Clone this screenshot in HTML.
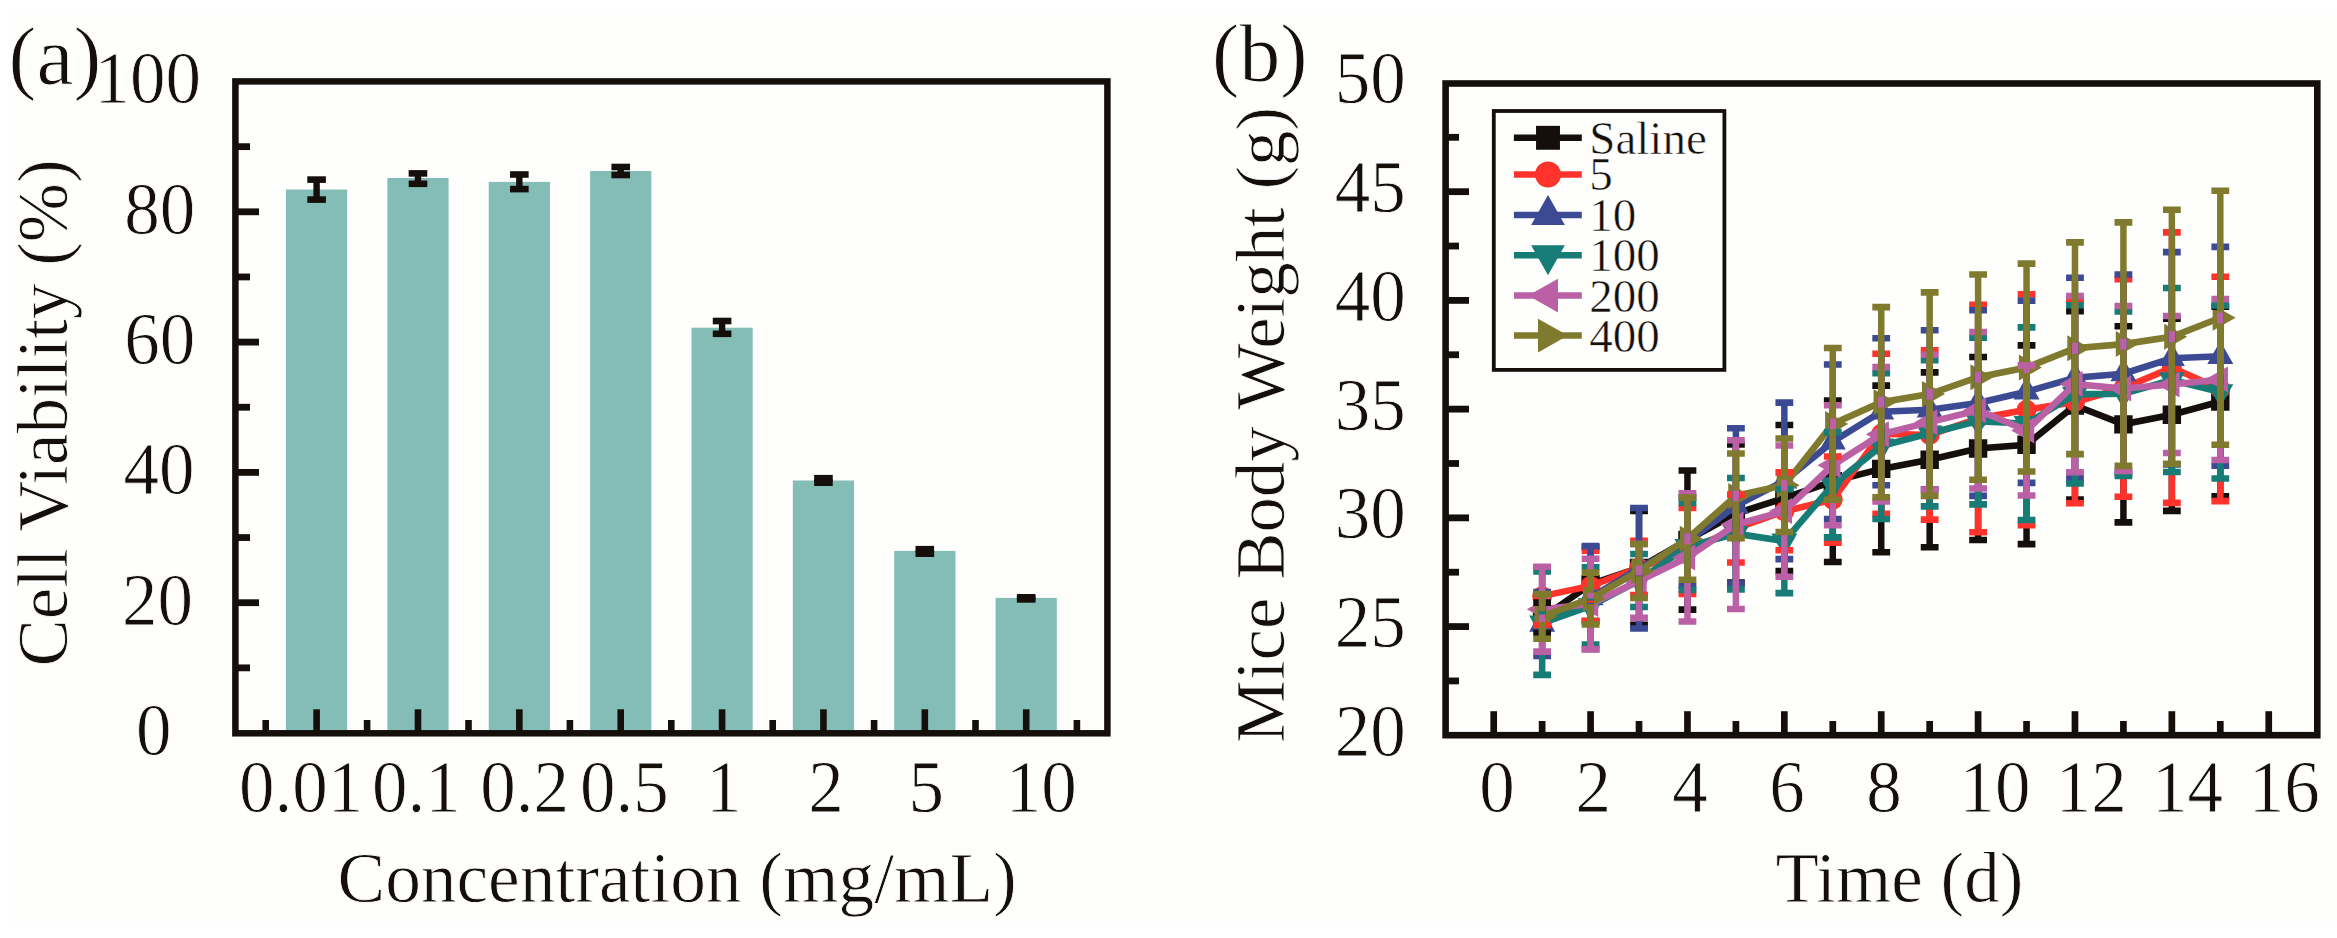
<!DOCTYPE html>
<html lang="en">
<head>
<meta charset="utf-8">
<title>Cell viability and mice body weight</title>
<style>
html,body{margin:0;padding:0;background:#fff;}
body{width:2337px;height:938px;overflow:hidden;}
svg{display:block;}
svg text{font-family:"Liberation Serif", serif;fill:#140f0b;}
</style>
</head>
<body>
<svg role="img" aria-label="Cell viability bar chart and mice body weight line chart" width="2337" height="938" viewBox="0 0 2337 938" shape-rendering="geometricPrecision">
<rect x="0.00" y="0.00" width="2337.00" height="938.00" fill="#ffffff"/>
<rect x="9.00" y="11.00" width="2328.00" height="912.00" fill="#fefefc"/>
<g id="panel-a">
<rect x="286.00" y="189.50" width="61.20" height="543.80" fill="#84bcb6"/>
<rect x="387.37" y="178.00" width="61.20" height="555.30" fill="#84bcb6"/>
<rect x="488.74" y="181.90" width="61.20" height="551.40" fill="#84bcb6"/>
<rect x="590.11" y="171.00" width="61.20" height="562.30" fill="#84bcb6"/>
<rect x="691.48" y="327.70" width="61.20" height="405.60" fill="#84bcb6"/>
<rect x="792.85" y="480.50" width="61.20" height="252.80" fill="#84bcb6"/>
<rect x="894.22" y="550.90" width="61.20" height="182.40" fill="#84bcb6"/>
<rect x="995.59" y="597.90" width="61.20" height="135.40" fill="#84bcb6"/>
<rect x="313.40" y="179.60" width="6.40" height="20.00" fill="#140f0b"/>
<rect x="307.30" y="176.30" width="18.60" height="6.60" fill="#140f0b"/>
<rect x="307.30" y="196.30" width="18.60" height="6.60" fill="#140f0b"/>
<rect x="414.77" y="173.40" width="6.40" height="10.40" fill="#140f0b"/>
<rect x="408.67" y="170.10" width="18.60" height="6.60" fill="#140f0b"/>
<rect x="408.67" y="180.50" width="18.60" height="6.60" fill="#140f0b"/>
<rect x="516.14" y="174.50" width="6.40" height="14.60" fill="#140f0b"/>
<rect x="510.04" y="171.20" width="18.60" height="6.60" fill="#140f0b"/>
<rect x="510.04" y="185.80" width="18.60" height="6.60" fill="#140f0b"/>
<rect x="617.51" y="167.00" width="6.40" height="8.00" fill="#140f0b"/>
<rect x="611.41" y="163.70" width="18.60" height="6.60" fill="#140f0b"/>
<rect x="611.41" y="171.70" width="18.60" height="6.60" fill="#140f0b"/>
<rect x="718.88" y="321.00" width="6.40" height="12.80" fill="#140f0b"/>
<rect x="712.78" y="317.70" width="18.60" height="6.60" fill="#140f0b"/>
<rect x="712.78" y="330.50" width="18.60" height="6.60" fill="#140f0b"/>
<rect x="820.25" y="478.20" width="6.40" height="4.50" fill="#140f0b"/>
<rect x="814.15" y="474.90" width="18.60" height="6.60" fill="#140f0b"/>
<rect x="814.15" y="479.40" width="18.60" height="6.60" fill="#140f0b"/>
<rect x="921.62" y="549.20" width="6.40" height="4.50" fill="#140f0b"/>
<rect x="915.52" y="545.90" width="18.60" height="6.60" fill="#140f0b"/>
<rect x="915.52" y="550.40" width="18.60" height="6.60" fill="#140f0b"/>
<rect x="1022.99" y="597.30" width="6.40" height="2.10" fill="#140f0b"/>
<rect x="1016.89" y="594.00" width="18.60" height="6.60" fill="#140f0b"/>
<rect x="1016.89" y="596.10" width="18.60" height="6.60" fill="#140f0b"/>
<line x1="235.40" y1="667.85" x2="250.00" y2="667.85" stroke="#140f0b" stroke-width="6.8" stroke-linecap="butt"/>
<line x1="235.40" y1="602.70" x2="259.00" y2="602.70" stroke="#140f0b" stroke-width="6.8" stroke-linecap="butt"/>
<line x1="235.40" y1="537.55" x2="250.00" y2="537.55" stroke="#140f0b" stroke-width="6.8" stroke-linecap="butt"/>
<line x1="235.40" y1="472.40" x2="259.00" y2="472.40" stroke="#140f0b" stroke-width="6.8" stroke-linecap="butt"/>
<line x1="235.40" y1="407.25" x2="250.00" y2="407.25" stroke="#140f0b" stroke-width="6.8" stroke-linecap="butt"/>
<line x1="235.40" y1="342.10" x2="259.00" y2="342.10" stroke="#140f0b" stroke-width="6.8" stroke-linecap="butt"/>
<line x1="235.40" y1="276.95" x2="250.00" y2="276.95" stroke="#140f0b" stroke-width="6.8" stroke-linecap="butt"/>
<line x1="235.40" y1="211.80" x2="259.00" y2="211.80" stroke="#140f0b" stroke-width="6.8" stroke-linecap="butt"/>
<line x1="235.40" y1="146.65" x2="250.00" y2="146.65" stroke="#140f0b" stroke-width="6.8" stroke-linecap="butt"/>
<line x1="316.60" y1="733.30" x2="316.60" y2="709.30" stroke="#140f0b" stroke-width="6.6" stroke-linecap="butt"/>
<line x1="417.97" y1="733.30" x2="417.97" y2="709.30" stroke="#140f0b" stroke-width="6.6" stroke-linecap="butt"/>
<line x1="519.34" y1="733.30" x2="519.34" y2="709.30" stroke="#140f0b" stroke-width="6.6" stroke-linecap="butt"/>
<line x1="620.71" y1="733.30" x2="620.71" y2="709.30" stroke="#140f0b" stroke-width="6.6" stroke-linecap="butt"/>
<line x1="722.08" y1="733.30" x2="722.08" y2="709.30" stroke="#140f0b" stroke-width="6.6" stroke-linecap="butt"/>
<line x1="823.45" y1="733.30" x2="823.45" y2="709.30" stroke="#140f0b" stroke-width="6.6" stroke-linecap="butt"/>
<line x1="924.82" y1="733.30" x2="924.82" y2="709.30" stroke="#140f0b" stroke-width="6.6" stroke-linecap="butt"/>
<line x1="1026.19" y1="733.30" x2="1026.19" y2="709.30" stroke="#140f0b" stroke-width="6.6" stroke-linecap="butt"/>
<line x1="265.70" y1="733.30" x2="265.70" y2="720.00" stroke="#140f0b" stroke-width="6.6" stroke-linecap="butt"/>
<line x1="367.10" y1="733.30" x2="367.10" y2="720.00" stroke="#140f0b" stroke-width="6.6" stroke-linecap="butt"/>
<line x1="468.50" y1="733.30" x2="468.50" y2="720.00" stroke="#140f0b" stroke-width="6.6" stroke-linecap="butt"/>
<line x1="569.90" y1="733.30" x2="569.90" y2="720.00" stroke="#140f0b" stroke-width="6.6" stroke-linecap="butt"/>
<line x1="671.30" y1="733.30" x2="671.30" y2="720.00" stroke="#140f0b" stroke-width="6.6" stroke-linecap="butt"/>
<line x1="772.70" y1="733.30" x2="772.70" y2="720.00" stroke="#140f0b" stroke-width="6.6" stroke-linecap="butt"/>
<line x1="874.10" y1="733.30" x2="874.10" y2="720.00" stroke="#140f0b" stroke-width="6.6" stroke-linecap="butt"/>
<line x1="975.50" y1="733.30" x2="975.50" y2="720.00" stroke="#140f0b" stroke-width="6.6" stroke-linecap="butt"/>
<line x1="1076.90" y1="733.30" x2="1076.90" y2="720.00" stroke="#140f0b" stroke-width="6.6" stroke-linecap="butt"/>
<rect x="235.4" y="81.4" width="872.00" height="651.90" fill="none" stroke="#140f0b" stroke-width="6.5"/>
<text transform="translate(94.50 102.80) scale(1 1.04)" font-size="71" text-anchor="start" stroke="#fefefc" stroke-width="0.78" paint-order="fill stroke">100</text>
<text transform="translate(124.30 233.80) scale(1 1.04)" font-size="71" text-anchor="start" stroke="#fefefc" stroke-width="0.78" paint-order="fill stroke">80</text>
<text transform="translate(124.30 364.20) scale(1 1.04)" font-size="71" text-anchor="start" stroke="#fefefc" stroke-width="0.78" paint-order="fill stroke">60</text>
<text transform="translate(123.40 494.40) scale(1 1.04)" font-size="71" text-anchor="start" stroke="#fefefc" stroke-width="0.78" paint-order="fill stroke">40</text>
<text transform="translate(122.00 624.60) scale(1 1.04)" font-size="71" text-anchor="start" stroke="#fefefc" stroke-width="0.78" paint-order="fill stroke">20</text>
<text transform="translate(136.00 754.80) scale(1 1.04)" font-size="71" text-anchor="start" stroke="#fefefc" stroke-width="0.78" paint-order="fill stroke">0</text>
<text transform="translate(238.90 811.90) scale(1 1.04)" font-size="71" text-anchor="start" stroke="#fefefc" stroke-width="0.78" paint-order="fill stroke">0.01</text>
<text transform="translate(372.00 811.90) scale(1 1.04)" font-size="71" text-anchor="start" stroke="#fefefc" stroke-width="0.78" paint-order="fill stroke">0.1</text>
<text transform="translate(480.20 811.90) scale(1 1.04)" font-size="71" text-anchor="start" stroke="#fefefc" stroke-width="0.78" paint-order="fill stroke">0.2</text>
<text transform="translate(580.00 811.90) scale(1 1.04)" font-size="71" text-anchor="start" stroke="#fefefc" stroke-width="0.78" paint-order="fill stroke">0.5</text>
<text transform="translate(705.90 811.90) scale(1 1.04)" font-size="71" text-anchor="start" stroke="#fefefc" stroke-width="0.78" paint-order="fill stroke">1</text>
<text transform="translate(808.30 811.90) scale(1 1.04)" font-size="71" text-anchor="start" stroke="#fefefc" stroke-width="0.78" paint-order="fill stroke">2</text>
<text transform="translate(908.50 811.90) scale(1 1.04)" font-size="71" text-anchor="start" stroke="#fefefc" stroke-width="0.78" paint-order="fill stroke">5</text>
<text transform="translate(1005.70 811.90) scale(1 1.04)" font-size="71" text-anchor="start" stroke="#fefefc" stroke-width="0.78" paint-order="fill stroke">10</text>
<text transform="translate(337.60 902.40)" font-size="71.3" text-anchor="start" stroke="#fefefc" stroke-width="0.78" paint-order="fill stroke">Concentration (mg/mL)</text>
<text transform="translate(67.30 666.50) rotate(-90)" font-size="71" text-anchor="start" stroke="#fefefc" stroke-width="0.78" paint-order="fill stroke">Cell Viability (%)</text>
<text transform="translate(8.60 83.60)" font-size="83.5" text-anchor="start" stroke="#fefefc" stroke-width="0.92" paint-order="fill stroke">(a)</text>
</g>
<g id="panel-b">
<polyline points="1542.14,617.88 1590.58,584.17 1639.02,567.86 1687.46,540.03 1735.90,513.50 1784.34,498.06 1832.78,481.32 1881.22,468.92 1929.66,459.79 1978.10,448.48 2026.54,444.79 2074.98,405.43 2123.42,424.35 2171.86,414.78 2220.30,401.51" fill="none" stroke="#140f0b" stroke-width="6.6" stroke-linejoin="miter"/>
<path fill="#140f0b" d="M1532.94 608.68H1551.34V627.08H1532.94ZM1581.38 574.97H1599.78V593.37H1581.38ZM1629.82 558.66H1648.22V577.06H1629.82ZM1678.26 530.83H1696.66V549.23H1678.26ZM1726.70 504.30H1745.10V522.70H1726.70ZM1775.14 488.86H1793.54V507.26H1775.14ZM1823.58 472.12H1841.98V490.52H1823.58ZM1872.02 459.72H1890.42V478.12H1872.02ZM1920.46 450.59H1938.86V468.99H1920.46ZM1968.90 439.28H1987.30V457.68H1968.90ZM2017.34 435.59H2035.74V453.99H2017.34ZM2065.78 396.23H2084.18V414.63H2065.78ZM2114.22 415.15H2132.62V433.55H2114.22ZM2162.66 405.58H2181.06V423.98H2162.66ZM2211.10 392.31H2229.50V410.71H2211.10Z"/>
<polyline points="1542.14,596.13 1590.58,585.91 1639.02,567.86 1687.46,550.90 1735.90,528.51 1784.34,511.33 1832.78,499.58 1881.22,433.70 1929.66,435.00 1978.10,418.48 2026.54,409.78 2074.98,401.95 2123.42,388.03 2171.86,367.59 2220.30,388.90" fill="none" stroke="#ff332b" stroke-width="6.6" stroke-linejoin="miter"/>
<path fill="#ff332b" d="M1532.14 596.13A10.00 10.00 0 1 0 1552.14 596.13A10.00 10.00 0 1 0 1532.14 596.13ZM1580.58 585.91A10.00 10.00 0 1 0 1600.58 585.91A10.00 10.00 0 1 0 1580.58 585.91ZM1629.02 567.86A10.00 10.00 0 1 0 1649.02 567.86A10.00 10.00 0 1 0 1629.02 567.86ZM1677.46 550.90A10.00 10.00 0 1 0 1697.46 550.90A10.00 10.00 0 1 0 1677.46 550.90ZM1725.90 528.51A10.00 10.00 0 1 0 1745.90 528.51A10.00 10.00 0 1 0 1725.90 528.51ZM1774.34 511.33A10.00 10.00 0 1 0 1794.34 511.33A10.00 10.00 0 1 0 1774.34 511.33ZM1822.78 499.58A10.00 10.00 0 1 0 1842.78 499.58A10.00 10.00 0 1 0 1822.78 499.58ZM1871.22 433.70A10.00 10.00 0 1 0 1891.22 433.70A10.00 10.00 0 1 0 1871.22 433.70ZM1919.66 435.00A10.00 10.00 0 1 0 1939.66 435.00A10.00 10.00 0 1 0 1919.66 435.00ZM1968.10 418.48A10.00 10.00 0 1 0 1988.10 418.48A10.00 10.00 0 1 0 1968.10 418.48ZM2016.54 409.78A10.00 10.00 0 1 0 2036.54 409.78A10.00 10.00 0 1 0 2016.54 409.78ZM2064.98 401.95A10.00 10.00 0 1 0 2084.98 401.95A10.00 10.00 0 1 0 2064.98 401.95ZM2113.42 388.03A10.00 10.00 0 1 0 2133.42 388.03A10.00 10.00 0 1 0 2113.42 388.03ZM2161.86 367.59A10.00 10.00 0 1 0 2181.86 367.59A10.00 10.00 0 1 0 2161.86 367.59ZM2210.30 388.90A10.00 10.00 0 1 0 2230.30 388.90A10.00 10.00 0 1 0 2210.30 388.90Z"/>
<polyline points="1542.14,623.97 1590.58,597.65 1639.02,568.30 1687.46,541.77 1735.90,505.89 1784.34,480.88 1832.78,441.74 1881.22,411.73 1929.66,409.78 1978.10,403.04 2026.54,391.73 2074.98,377.81 2123.42,373.68 2171.86,358.24 2220.30,356.28" fill="none" stroke="#3c4a94" stroke-width="6.6" stroke-linejoin="miter"/>
<path fill="#3c4a94" d="M1542.14 608.63L1555.14 631.63L1529.14 631.63ZM1590.58 582.32L1603.58 605.32L1577.58 605.32ZM1639.02 552.97L1652.02 575.97L1626.02 575.97ZM1687.46 526.44L1700.46 549.44L1674.46 549.44ZM1735.90 490.56L1748.90 513.56L1722.90 513.56ZM1784.34 465.55L1797.34 488.55L1771.34 488.55ZM1832.78 426.41L1845.78 449.41L1819.78 449.41ZM1881.22 396.40L1894.22 419.40L1868.22 419.40ZM1929.66 394.44L1942.66 417.44L1916.66 417.44ZM1978.10 387.70L1991.10 410.70L1965.10 410.70ZM2026.54 376.40L2039.54 399.40L2013.54 399.40ZM2074.98 362.48L2087.98 385.48L2061.98 385.48ZM2123.42 358.35L2136.42 381.35L2110.42 381.35ZM2171.86 342.91L2184.86 365.91L2158.86 365.91ZM2220.30 340.95L2233.30 363.95L2207.30 363.95Z"/>
<polyline points="1542.14,623.10 1590.58,605.92 1639.02,580.48 1687.46,546.55 1735.90,533.72 1784.34,541.12 1832.78,484.80 1881.22,446.09 1929.66,433.26 1978.10,421.08 2026.54,423.69 2074.98,394.34 2123.42,393.69 2171.86,379.99 2220.30,391.95" fill="none" stroke="#177c75" stroke-width="6.6" stroke-linejoin="miter"/>
<path fill="#177c75" d="M1542.14 638.43L1555.14 615.43L1529.14 615.43ZM1590.58 621.25L1603.58 598.25L1577.58 598.25ZM1639.02 595.81L1652.02 572.81L1626.02 572.81ZM1687.46 561.89L1700.46 538.89L1674.46 538.89ZM1735.90 549.06L1748.90 526.06L1722.90 526.06ZM1784.34 556.45L1797.34 533.45L1771.34 533.45ZM1832.78 500.13L1845.78 477.13L1819.78 477.13ZM1881.22 461.42L1894.22 438.42L1868.22 438.42ZM1929.66 448.60L1942.66 425.60L1916.66 425.60ZM1978.10 436.42L1991.10 413.42L1965.10 413.42ZM2026.54 439.03L2039.54 416.03L2013.54 416.03ZM2074.98 409.67L2087.98 386.67L2061.98 386.67ZM2123.42 409.02L2136.42 386.02L2110.42 386.02ZM2171.86 395.32L2184.86 372.32L2158.86 372.32ZM2220.30 407.28L2233.30 384.28L2207.30 384.28Z"/>
<polyline points="1542.14,609.18 1590.58,603.96 1639.02,580.91 1687.46,557.43 1735.90,524.59 1784.34,511.11 1832.78,465.23 1881.22,434.35 1929.66,422.17 1978.10,410.21 2026.54,430.44 2074.98,384.12 2123.42,388.47 2171.86,384.55 2220.30,379.55" fill="none" stroke="#bc60a5" stroke-width="6.6" stroke-linejoin="miter"/>
<path fill="#bc60a5" d="M1526.81 609.18L1549.81 596.18L1549.81 622.18ZM1575.25 603.96L1598.25 590.96L1598.25 616.96ZM1623.69 580.91L1646.69 567.91L1646.69 593.91ZM1672.13 557.43L1695.13 544.43L1695.13 570.43ZM1720.57 524.59L1743.57 511.59L1743.57 537.59ZM1769.01 511.11L1792.01 498.11L1792.01 524.11ZM1817.45 465.23L1840.45 452.23L1840.45 478.23ZM1865.89 434.35L1888.89 421.35L1888.89 447.35ZM1914.33 422.17L1937.33 409.17L1937.33 435.17ZM1962.77 410.21L1985.77 397.21L1985.77 423.21ZM2011.21 430.44L2034.21 417.44L2034.21 443.44ZM2059.65 384.12L2082.65 371.12L2082.65 397.12ZM2108.09 388.47L2131.09 375.47L2131.09 401.47ZM2156.53 384.55L2179.53 371.55L2179.53 397.55ZM2204.97 379.55L2227.97 366.55L2227.97 392.55Z"/>
<polyline points="1542.14,616.35 1590.58,598.52 1639.02,570.91 1687.46,538.73 1735.90,495.89 1784.34,485.23 1832.78,423.91 1881.22,402.17 1929.66,394.12 1978.10,377.16 2026.54,367.59 2074.98,348.24 2123.42,344.11 2171.86,336.71 2220.30,317.80" fill="none" stroke="#807a2e" stroke-width="6.6" stroke-linejoin="miter"/>
<path fill="#807a2e" d="M1557.47 616.35L1534.47 603.35L1534.47 629.35ZM1605.91 598.52L1582.91 585.52L1582.91 611.52ZM1654.35 570.91L1631.35 557.91L1631.35 583.91ZM1702.79 538.73L1679.79 525.73L1679.79 551.73ZM1751.23 495.89L1728.23 482.89L1728.23 508.89ZM1799.67 485.23L1776.67 472.23L1776.67 498.23ZM1848.11 423.91L1825.11 410.91L1825.11 436.91ZM1896.55 402.17L1873.55 389.17L1873.55 415.17ZM1944.99 394.12L1921.99 381.12L1921.99 407.12ZM1993.43 377.16L1970.43 364.16L1970.43 390.16ZM2041.87 367.59L2018.87 354.59L2018.87 380.59ZM2090.31 348.24L2067.31 335.24L2067.31 361.24ZM2138.75 344.11L2115.75 331.11L2115.75 357.11ZM2187.19 336.71L2164.19 323.71L2164.19 349.71ZM2235.63 317.80L2212.63 304.80L2212.63 330.80Z"/>
<path fill="#140f0b" d="M1533.24 599.36L1551.04 599.36L1551.04 605.96L1545.39 605.96L1545.39 612.48L1538.89 612.48L1538.89 605.96L1533.24 605.96ZM1533.24 636.40L1551.04 636.40L1551.04 629.80L1545.39 629.80L1545.39 623.28L1538.89 623.28L1538.89 629.80L1533.24 629.80ZM1581.68 543.91L1599.48 543.91L1599.48 550.51L1593.83 550.51L1593.83 578.77L1587.33 578.77L1587.33 550.51L1581.68 550.51ZM1581.68 624.44L1599.48 624.44L1599.48 617.84L1593.83 617.84L1593.83 589.57L1587.33 589.57L1587.33 617.84L1581.68 617.84ZM1630.12 507.59L1647.92 507.59L1647.92 514.19L1642.27 514.19L1642.27 562.46L1635.77 562.46L1635.77 514.19L1630.12 514.19ZM1630.12 628.14L1647.92 628.14L1647.92 621.54L1642.27 621.54L1642.27 573.26L1635.77 573.26L1635.77 621.54L1630.12 621.54ZM1678.56 467.15L1696.36 467.15L1696.36 473.75L1690.71 473.75L1690.71 534.63L1684.21 534.63L1684.21 473.75L1678.56 473.75ZM1678.56 612.91L1696.36 612.91L1696.36 606.31L1690.71 606.31L1690.71 545.43L1684.21 545.43L1684.21 606.31L1678.56 606.31ZM1727.00 441.27L1744.80 441.27L1744.80 447.87L1739.15 447.87L1739.15 508.10L1732.65 508.10L1732.65 447.87L1727.00 447.87ZM1727.00 585.73L1744.80 585.73L1744.80 579.13L1739.15 579.13L1739.15 518.90L1732.65 518.90L1732.65 579.13L1727.00 579.13ZM1775.44 421.70L1793.24 421.70L1793.24 428.30L1787.59 428.30L1787.59 492.66L1781.09 492.66L1781.09 428.30L1775.44 428.30ZM1775.44 574.43L1793.24 574.43L1793.24 567.83L1787.59 567.83L1787.59 503.46L1781.09 503.46L1781.09 567.83L1775.44 567.83ZM1823.88 397.34L1841.68 397.34L1841.68 403.94L1836.03 403.94L1836.03 475.92L1829.53 475.92L1829.53 403.94L1823.88 403.94ZM1823.88 565.29L1841.68 565.29L1841.68 558.69L1836.03 558.69L1836.03 486.72L1829.53 486.72L1829.53 558.69L1823.88 558.69ZM1872.32 382.34L1890.12 382.34L1890.12 388.94L1884.47 388.94L1884.47 463.52L1877.97 463.52L1877.97 388.94L1872.32 388.94ZM1872.32 555.51L1890.12 555.51L1890.12 548.91L1884.47 548.91L1884.47 474.32L1877.97 474.32L1877.97 548.91L1872.32 548.91ZM1920.76 369.08L1938.56 369.08L1938.56 375.68L1932.91 375.68L1932.91 454.39L1926.41 454.39L1926.41 375.68L1920.76 375.68ZM1920.76 550.51L1938.56 550.51L1938.56 543.91L1932.91 543.91L1932.91 465.19L1926.41 465.19L1926.41 543.91L1920.76 543.91ZM1969.20 353.64L1987.00 353.64L1987.00 360.24L1981.35 360.24L1981.35 443.08L1974.85 443.08L1974.85 360.24L1969.20 360.24ZM1969.20 543.33L1987.00 543.33L1987.00 536.73L1981.35 536.73L1981.35 453.88L1974.85 453.88L1974.85 536.73L1969.20 536.73ZM2017.64 342.11L2035.44 342.11L2035.44 348.71L2029.79 348.71L2029.79 439.39L2023.29 439.39L2023.29 348.71L2017.64 348.71ZM2017.64 547.46L2035.44 547.46L2035.44 540.86L2029.79 540.86L2029.79 450.19L2023.29 450.19L2023.29 540.86L2017.64 540.86ZM2066.08 307.97L2083.88 307.97L2083.88 314.57L2078.23 314.57L2078.23 400.03L2071.73 400.03L2071.73 314.57L2066.08 314.57ZM2066.08 502.88L2083.88 502.88L2083.88 496.28L2078.23 496.28L2078.23 410.83L2071.73 410.83L2071.73 496.28L2066.08 496.28ZM2114.52 322.98L2132.32 322.98L2132.32 329.58L2126.67 329.58L2126.67 418.95L2120.17 418.95L2120.17 329.58L2114.52 329.58ZM2114.52 525.72L2132.32 525.72L2132.32 519.12L2126.67 519.12L2126.67 429.75L2120.17 429.75L2120.17 519.12L2114.52 519.12ZM2162.96 315.37L2180.76 315.37L2180.76 321.97L2175.11 321.97L2175.11 409.38L2168.61 409.38L2168.61 321.97L2162.96 321.97ZM2162.96 514.19L2180.76 514.19L2180.76 507.59L2175.11 507.59L2175.11 420.18L2168.61 420.18L2168.61 507.59L2162.96 507.59ZM2211.40 303.41L2229.20 303.41L2229.20 310.01L2223.55 310.01L2223.55 396.11L2217.05 396.11L2217.05 310.01L2211.40 310.01ZM2211.40 499.62L2229.20 499.62L2229.20 493.02L2223.55 493.02L2223.55 406.91L2217.05 406.91L2217.05 493.02L2211.40 493.02Z"/>
<path fill="#ff332b" d="M1533.24 563.91L1551.04 563.91L1551.04 570.51L1545.39 570.51L1545.39 590.73L1538.89 590.73L1538.89 570.51L1533.24 570.51ZM1533.24 628.35L1551.04 628.35L1551.04 621.75L1545.39 621.75L1545.39 601.53L1538.89 601.53L1538.89 621.75L1533.24 621.75ZM1581.68 547.38L1599.48 547.38L1599.48 553.98L1593.83 553.98L1593.83 580.51L1587.33 580.51L1587.33 553.98L1581.68 553.98ZM1581.68 624.44L1599.48 624.44L1599.48 617.84L1593.83 617.84L1593.83 591.31L1587.33 591.31L1587.33 617.84L1581.68 617.84ZM1630.12 537.38L1647.92 537.38L1647.92 543.98L1642.27 543.98L1642.27 562.46L1635.77 562.46L1635.77 543.98L1630.12 543.98ZM1630.12 598.34L1647.92 598.34L1647.92 591.74L1642.27 591.74L1642.27 573.26L1635.77 573.26L1635.77 591.74L1630.12 591.74ZM1678.56 504.55L1696.36 504.55L1696.36 511.15L1690.71 511.15L1690.71 545.50L1684.21 545.50L1684.21 511.15L1678.56 511.15ZM1678.56 597.26L1696.36 597.26L1696.36 590.66L1690.71 590.66L1690.71 556.30L1684.21 556.30L1684.21 590.66L1678.56 590.66ZM1727.00 491.28L1744.80 491.28L1744.80 497.88L1739.15 497.88L1739.15 523.11L1732.65 523.11L1732.65 497.88L1727.00 497.88ZM1727.00 565.73L1744.80 565.73L1744.80 559.13L1739.15 559.13L1739.15 533.91L1732.65 533.91L1732.65 559.13L1727.00 559.13ZM1775.44 469.10L1793.24 469.10L1793.24 475.70L1787.59 475.70L1787.59 505.93L1781.09 505.93L1781.09 475.70L1775.44 475.70ZM1775.44 553.55L1793.24 553.55L1793.24 546.95L1787.59 546.95L1787.59 516.73L1781.09 516.73L1781.09 546.95L1775.44 546.95ZM1823.88 453.23L1841.68 453.23L1841.68 459.83L1836.03 459.83L1836.03 494.18L1829.53 494.18L1829.53 459.83L1823.88 459.83ZM1823.88 545.94L1841.68 545.94L1841.68 539.34L1836.03 539.34L1836.03 504.98L1829.53 504.98L1829.53 539.34L1823.88 539.34ZM1872.32 350.38L1890.12 350.38L1890.12 356.98L1884.47 356.98L1884.47 428.30L1877.97 428.30L1877.97 356.98L1872.32 356.98ZM1872.32 517.02L1890.12 517.02L1890.12 510.42L1884.47 510.42L1884.47 439.10L1877.97 439.10L1877.97 510.42L1872.32 510.42ZM1920.76 347.11L1938.56 347.11L1938.56 353.71L1932.91 353.71L1932.91 429.60L1926.41 429.60L1926.41 353.71L1920.76 353.71ZM1920.76 522.89L1938.56 522.89L1938.56 516.29L1932.91 516.29L1932.91 440.40L1926.41 440.40L1926.41 516.29L1920.76 516.29ZM1969.20 301.45L1987.00 301.45L1987.00 308.05L1981.35 308.05L1981.35 413.08L1974.85 413.08L1974.85 308.05L1969.20 308.05ZM1969.20 535.50L1987.00 535.50L1987.00 528.90L1981.35 528.90L1981.35 423.88L1974.85 423.88L1974.85 528.90L1969.20 528.90ZM2017.64 291.01L2035.44 291.01L2035.44 297.61L2029.79 297.61L2029.79 404.38L2023.29 404.38L2023.29 297.61L2017.64 297.61ZM2017.64 528.54L2035.44 528.54L2035.44 521.94L2029.79 521.94L2029.79 415.18L2023.29 415.18L2023.29 521.94L2017.64 521.94ZM2066.08 297.32L2083.88 297.32L2083.88 303.92L2078.23 303.92L2078.23 396.55L2071.73 396.55L2071.73 303.92L2066.08 303.92ZM2066.08 506.58L2083.88 506.58L2083.88 499.98L2078.23 499.98L2078.23 407.35L2071.73 407.35L2071.73 499.98L2066.08 499.98ZM2114.52 276.01L2132.32 276.01L2132.32 282.61L2126.67 282.61L2126.67 382.63L2120.17 382.63L2120.17 282.61L2114.52 282.61ZM2114.52 500.06L2132.32 500.06L2132.32 493.46L2126.67 493.46L2126.67 393.43L2120.17 393.43L2120.17 493.46L2114.52 493.46ZM2162.96 229.04L2180.76 229.04L2180.76 235.64L2175.11 235.64L2175.11 362.19L2168.61 362.19L2168.61 235.64L2162.96 235.64ZM2162.96 506.15L2180.76 506.15L2180.76 499.55L2175.11 499.55L2175.11 372.99L2168.61 372.99L2168.61 499.55L2162.96 499.55ZM2211.40 273.40L2229.20 273.40L2229.20 280.00L2223.55 280.00L2223.55 383.50L2217.05 383.50L2217.05 280.00L2211.40 280.00ZM2211.40 504.41L2229.20 504.41L2229.20 497.81L2223.55 497.81L2223.55 394.30L2217.05 394.30L2217.05 497.81L2211.40 497.81Z"/>
<path fill="#3c4a94" d="M1533.24 588.70L1551.04 588.70L1551.04 595.30L1545.39 595.30L1545.39 618.57L1538.89 618.57L1538.89 595.30L1533.24 595.30ZM1533.24 659.23L1551.04 659.23L1551.04 652.63L1545.39 652.63L1545.39 629.37L1538.89 629.37L1538.89 652.63L1533.24 652.63ZM1581.68 542.82L1599.48 542.82L1599.48 549.42L1593.83 549.42L1593.83 592.25L1587.33 592.25L1587.33 549.42L1581.68 549.42ZM1581.68 652.49L1599.48 652.49L1599.48 645.89L1593.83 645.89L1593.83 603.05L1587.33 603.05L1587.33 645.89L1581.68 645.89ZM1630.12 504.76L1647.92 504.76L1647.92 511.36L1642.27 511.36L1642.27 562.90L1635.77 562.90L1635.77 511.36L1630.12 511.36ZM1630.12 631.83L1647.92 631.83L1647.92 625.23L1642.27 625.23L1642.27 573.70L1635.77 573.70L1635.77 625.23L1630.12 625.23ZM1678.56 494.33L1696.36 494.33L1696.36 500.93L1690.71 500.93L1690.71 536.37L1684.21 536.37L1684.21 500.93L1678.56 500.93ZM1678.56 589.21L1696.36 589.21L1696.36 582.61L1690.71 582.61L1690.71 547.17L1684.21 547.17L1684.21 582.61L1678.56 582.61ZM1727.00 424.96L1744.80 424.96L1744.80 431.56L1739.15 431.56L1739.15 500.49L1732.65 500.49L1732.65 431.56L1727.00 431.56ZM1727.00 586.82L1744.80 586.82L1744.80 580.22L1739.15 580.22L1739.15 511.29L1732.65 511.29L1732.65 580.22L1727.00 580.22ZM1775.44 399.30L1793.24 399.30L1793.24 405.90L1787.59 405.90L1787.59 475.48L1781.09 475.48L1781.09 405.90L1775.44 405.90ZM1775.44 562.47L1793.24 562.47L1793.24 555.87L1787.59 555.87L1787.59 486.28L1781.09 486.28L1781.09 555.87L1775.44 555.87ZM1823.88 361.25L1841.68 361.25L1841.68 367.85L1836.03 367.85L1836.03 436.34L1829.53 436.34L1829.53 367.85L1823.88 367.85ZM1823.88 522.24L1841.68 522.24L1841.68 515.64L1836.03 515.64L1836.03 447.14L1829.53 447.14L1829.53 515.64L1823.88 515.64ZM1872.32 334.94L1890.12 334.94L1890.12 341.54L1884.47 341.54L1884.47 406.33L1877.97 406.33L1877.97 341.54L1872.32 341.54ZM1872.32 488.53L1890.12 488.53L1890.12 481.93L1884.47 481.93L1884.47 417.13L1877.97 417.13L1877.97 481.93L1872.32 481.93ZM1920.76 326.89L1938.56 326.89L1938.56 333.49L1932.91 333.49L1932.91 404.38L1926.41 404.38L1926.41 333.49L1920.76 333.49ZM1920.76 492.66L1938.56 492.66L1938.56 486.06L1932.91 486.06L1932.91 415.18L1926.41 415.18L1926.41 486.06L1920.76 486.06ZM1969.20 306.89L1987.00 306.89L1987.00 313.49L1981.35 313.49L1981.35 397.64L1974.85 397.64L1974.85 313.49L1969.20 313.49ZM1969.20 499.19L1987.00 499.19L1987.00 492.59L1981.35 492.59L1981.35 408.44L1974.85 408.44L1974.85 492.59L1969.20 492.59ZM2017.64 297.32L2035.44 297.32L2035.44 303.92L2029.79 303.92L2029.79 386.33L2023.29 386.33L2023.29 303.92L2017.64 303.92ZM2017.64 486.14L2035.44 486.14L2035.44 479.54L2029.79 479.54L2029.79 397.13L2023.29 397.13L2023.29 479.54L2017.64 479.54ZM2066.08 274.49L2083.88 274.49L2083.88 281.09L2078.23 281.09L2078.23 372.41L2071.73 372.41L2071.73 281.09L2066.08 281.09ZM2066.08 481.14L2083.88 481.14L2083.88 474.54L2078.23 474.54L2078.23 383.21L2071.73 383.21L2071.73 474.54L2066.08 474.54ZM2114.52 271.22L2132.32 271.22L2132.32 277.82L2126.67 277.82L2126.67 368.28L2120.17 368.28L2120.17 277.82L2114.52 277.82ZM2114.52 476.14L2132.32 476.14L2132.32 469.54L2126.67 469.54L2126.67 379.08L2120.17 379.08L2120.17 469.54L2114.52 469.54ZM2162.96 248.83L2180.76 248.83L2180.76 255.43L2175.11 255.43L2175.11 352.84L2168.61 352.84L2168.61 255.43L2162.96 255.43ZM2162.96 467.66L2180.76 467.66L2180.76 461.06L2175.11 461.06L2175.11 363.64L2168.61 363.64L2168.61 461.06L2162.96 461.06ZM2211.40 243.61L2229.20 243.61L2229.20 250.21L2223.55 250.21L2223.55 350.88L2217.05 350.88L2217.05 250.21L2211.40 250.21ZM2211.40 468.96L2229.20 468.96L2229.20 462.36L2223.55 462.36L2223.55 361.68L2217.05 361.68L2217.05 462.36L2211.40 462.36Z"/>
<path fill="#177c75" d="M1533.24 568.04L1551.04 568.04L1551.04 574.64L1545.39 574.64L1545.39 617.70L1538.89 617.70L1538.89 574.64L1533.24 574.64ZM1533.24 678.15L1551.04 678.15L1551.04 671.55L1545.39 671.55L1545.39 628.50L1538.89 628.50L1538.89 671.55L1533.24 671.55ZM1581.68 563.91L1599.48 563.91L1599.48 570.51L1593.83 570.51L1593.83 600.52L1587.33 600.52L1587.33 570.51L1581.68 570.51ZM1581.68 647.92L1599.48 647.92L1599.48 641.32L1593.83 641.32L1593.83 611.32L1587.33 611.32L1587.33 641.32L1581.68 641.32ZM1630.12 550.65L1647.92 550.65L1647.92 557.25L1642.27 557.25L1642.27 575.08L1635.77 575.08L1635.77 557.25L1630.12 557.25ZM1630.12 610.30L1647.92 610.30L1647.92 603.70L1642.27 603.70L1642.27 585.88L1635.77 585.88L1635.77 603.70L1630.12 603.70ZM1678.56 499.76L1696.36 499.76L1696.36 506.36L1690.71 506.36L1690.71 541.15L1684.21 541.15L1684.21 506.36L1678.56 506.36ZM1678.56 593.34L1696.36 593.34L1696.36 586.74L1690.71 586.74L1690.71 551.95L1684.21 551.95L1684.21 586.74L1678.56 586.74ZM1727.00 474.76L1744.80 474.76L1744.80 481.36L1739.15 481.36L1739.15 528.32L1732.65 528.32L1732.65 481.36L1727.00 481.36ZM1727.00 592.69L1744.80 592.69L1744.80 586.09L1739.15 586.09L1739.15 539.12L1732.65 539.12L1732.65 586.09L1727.00 586.09ZM1775.44 485.85L1793.24 485.85L1793.24 492.45L1787.59 492.45L1787.59 535.72L1781.09 535.72L1781.09 492.45L1775.44 492.45ZM1775.44 596.39L1793.24 596.39L1793.24 589.79L1787.59 589.79L1787.59 546.52L1781.09 546.52L1781.09 589.79L1775.44 589.79ZM1823.88 428.87L1841.68 428.87L1841.68 435.47L1836.03 435.47L1836.03 479.40L1829.53 479.40L1829.53 435.47L1823.88 435.47ZM1823.88 540.72L1841.68 540.72L1841.68 534.12L1836.03 534.12L1836.03 490.20L1829.53 490.20L1829.53 534.12L1823.88 534.12ZM1872.32 369.95L1890.12 369.95L1890.12 376.55L1884.47 376.55L1884.47 440.69L1877.97 440.69L1877.97 376.55L1872.32 376.55ZM1872.32 522.24L1890.12 522.24L1890.12 515.64L1884.47 515.64L1884.47 451.49L1877.97 451.49L1877.97 515.64L1872.32 515.64ZM1920.76 356.90L1938.56 356.90L1938.56 363.50L1932.91 363.50L1932.91 427.86L1926.41 427.86L1926.41 363.50L1920.76 363.50ZM1920.76 509.63L1938.56 509.63L1938.56 503.03L1932.91 503.03L1932.91 438.66L1926.41 438.66L1926.41 503.03L1920.76 503.03ZM1969.20 334.50L1987.00 334.50L1987.00 341.10L1981.35 341.10L1981.35 415.68L1974.85 415.68L1974.85 341.10L1969.20 341.10ZM1969.20 507.67L1987.00 507.67L1987.00 501.07L1981.35 501.07L1981.35 426.48L1974.85 426.48L1974.85 501.07L1969.20 501.07ZM2017.64 324.06L2035.44 324.06L2035.44 330.66L2029.79 330.66L2029.79 418.29L2023.29 418.29L2023.29 330.66L2017.64 330.66ZM2017.64 523.32L2035.44 523.32L2035.44 516.72L2029.79 516.72L2029.79 429.09L2023.29 429.09L2023.29 516.72L2017.64 516.72ZM2066.08 301.88L2083.88 301.88L2083.88 308.48L2078.23 308.48L2078.23 388.94L2071.73 388.94L2071.73 308.48L2066.08 308.48ZM2066.08 486.79L2083.88 486.79L2083.88 480.19L2078.23 480.19L2078.23 399.74L2071.73 399.74L2071.73 480.19L2066.08 480.19ZM2114.52 308.19L2132.32 308.19L2132.32 314.79L2126.67 314.79L2126.67 388.29L2120.17 388.29L2120.17 314.79L2114.52 314.79ZM2114.52 479.18L2132.32 479.18L2132.32 472.58L2126.67 472.58L2126.67 399.09L2120.17 399.09L2120.17 472.58L2114.52 472.58ZM2162.96 284.71L2180.76 284.71L2180.76 291.31L2175.11 291.31L2175.11 374.59L2168.61 374.59L2168.61 291.31L2162.96 291.31ZM2162.96 475.27L2180.76 475.27L2180.76 468.67L2175.11 468.67L2175.11 385.39L2168.61 385.39L2168.61 468.67L2162.96 468.67ZM2211.40 302.10L2229.20 302.10L2229.20 308.70L2223.55 308.70L2223.55 386.55L2217.05 386.55L2217.05 308.70L2211.40 308.70ZM2211.40 481.79L2229.20 481.79L2229.20 475.19L2223.55 475.19L2223.55 397.35L2217.05 397.35L2217.05 475.19L2211.40 475.19Z"/>
<path fill="#bc60a5" d="M1533.24 563.48L1551.04 563.48L1551.04 570.08L1545.39 570.08L1545.39 603.78L1538.89 603.78L1538.89 570.08L1533.24 570.08ZM1533.24 654.88L1551.04 654.88L1551.04 648.28L1545.39 648.28L1545.39 614.58L1538.89 614.58L1538.89 648.28L1533.24 648.28ZM1581.68 555.43L1599.48 555.43L1599.48 562.03L1593.83 562.03L1593.83 598.56L1587.33 598.56L1587.33 562.03L1581.68 562.03ZM1581.68 652.49L1599.48 652.49L1599.48 645.89L1593.83 645.89L1593.83 609.36L1587.33 609.36L1587.33 645.89L1581.68 645.89ZM1630.12 540.64L1647.92 540.64L1647.92 547.24L1642.27 547.24L1642.27 575.51L1635.77 575.51L1635.77 547.24L1630.12 547.24ZM1630.12 621.18L1647.92 621.18L1647.92 614.58L1642.27 614.58L1642.27 586.31L1635.77 586.31L1635.77 614.58L1630.12 614.58ZM1678.56 489.98L1696.36 489.98L1696.36 496.58L1690.71 496.58L1690.71 552.03L1684.21 552.03L1684.21 496.58L1678.56 496.58ZM1678.56 624.87L1696.36 624.87L1696.36 618.27L1690.71 618.27L1690.71 562.83L1684.21 562.83L1684.21 618.27L1678.56 618.27ZM1727.00 436.92L1744.80 436.92L1744.80 443.52L1739.15 443.52L1739.15 519.19L1732.65 519.19L1732.65 443.52L1727.00 443.52ZM1727.00 612.26L1744.80 612.26L1744.80 605.66L1739.15 605.66L1739.15 529.99L1732.65 529.99L1732.65 605.66L1727.00 605.66ZM1775.44 442.14L1793.24 442.14L1793.24 448.74L1787.59 448.74L1787.59 505.71L1781.09 505.71L1781.09 448.74L1775.44 448.74ZM1775.44 580.08L1793.24 580.08L1793.24 573.48L1787.59 573.48L1787.59 516.51L1781.09 516.51L1781.09 573.48L1775.44 573.48ZM1823.88 401.91L1841.68 401.91L1841.68 408.51L1836.03 408.51L1836.03 459.83L1829.53 459.83L1829.53 408.51L1823.88 408.51ZM1823.88 528.54L1841.68 528.54L1841.68 521.94L1836.03 521.94L1836.03 470.63L1829.53 470.63L1829.53 521.94L1823.88 521.94ZM1872.32 363.86L1890.12 363.86L1890.12 370.46L1884.47 370.46L1884.47 428.95L1877.97 428.95L1877.97 370.46L1872.32 370.46ZM1872.32 504.84L1890.12 504.84L1890.12 498.24L1884.47 498.24L1884.47 439.75L1877.97 439.75L1877.97 498.24L1872.32 498.24ZM1920.76 351.46L1938.56 351.46L1938.56 358.06L1932.91 358.06L1932.91 416.77L1926.41 416.77L1926.41 358.06L1920.76 358.06ZM1920.76 492.88L1938.56 492.88L1938.56 486.28L1932.91 486.28L1932.91 427.57L1926.41 427.57L1926.41 486.28L1920.76 486.28ZM1969.20 328.63L1987.00 328.63L1987.00 335.23L1981.35 335.23L1981.35 404.81L1974.85 404.81L1974.85 335.23L1969.20 335.23ZM1969.20 491.79L1987.00 491.79L1987.00 485.19L1981.35 485.19L1981.35 415.61L1974.85 415.61L1974.85 485.19L1969.20 485.19ZM2017.64 362.12L2035.44 362.12L2035.44 368.72L2029.79 368.72L2029.79 425.04L2023.29 425.04L2023.29 368.72L2017.64 368.72ZM2017.64 498.75L2035.44 498.75L2035.44 492.15L2029.79 492.15L2029.79 435.84L2023.29 435.84L2023.29 492.15L2017.64 492.15ZM2066.08 292.75L2083.88 292.75L2083.88 299.35L2078.23 299.35L2078.23 378.72L2071.73 378.72L2071.73 299.35L2066.08 299.35ZM2066.08 475.49L2083.88 475.49L2083.88 468.89L2078.23 468.89L2078.23 389.52L2071.73 389.52L2071.73 468.89L2066.08 468.89ZM2114.52 302.75L2132.32 302.75L2132.32 309.35L2126.67 309.35L2126.67 383.07L2120.17 383.07L2120.17 309.35L2114.52 309.35ZM2114.52 474.18L2132.32 474.18L2132.32 467.58L2126.67 467.58L2126.67 393.87L2120.17 393.87L2120.17 467.58L2114.52 467.58ZM2162.96 312.76L2180.76 312.76L2180.76 319.36L2175.11 319.36L2175.11 379.15L2168.61 379.15L2168.61 319.36L2162.96 319.36ZM2162.96 456.35L2180.76 456.35L2180.76 449.75L2175.11 449.75L2175.11 389.95L2168.61 389.95L2168.61 449.75L2162.96 449.75ZM2211.40 295.80L2229.20 295.80L2229.20 302.40L2223.55 302.40L2223.55 374.15L2217.05 374.15L2217.05 302.40L2211.40 302.40ZM2211.40 463.31L2229.20 463.31L2229.20 456.71L2223.55 456.71L2223.55 384.95L2217.05 384.95L2217.05 456.71L2211.40 456.71Z"/>
<path fill="#807a2e" d="M1533.24 590.66L1551.04 590.66L1551.04 597.26L1545.39 597.26L1545.39 610.95L1538.89 610.95L1538.89 597.26L1533.24 597.26ZM1533.24 642.05L1551.04 642.05L1551.04 635.45L1545.39 635.45L1545.39 621.75L1538.89 621.75L1538.89 635.45L1533.24 635.45ZM1581.68 569.35L1599.48 569.35L1599.48 575.95L1593.83 575.95L1593.83 593.12L1587.33 593.12L1587.33 575.95L1581.68 575.95ZM1581.68 627.70L1599.48 627.70L1599.48 621.10L1593.83 621.10L1593.83 603.92L1587.33 603.92L1587.33 621.10L1581.68 621.10ZM1630.12 540.64L1647.92 540.64L1647.92 547.24L1642.27 547.24L1642.27 565.51L1635.77 565.51L1635.77 547.24L1630.12 547.24ZM1630.12 601.17L1647.92 601.17L1647.92 594.57L1642.27 594.57L1642.27 576.31L1635.77 576.31L1635.77 594.57L1630.12 594.57ZM1678.56 494.33L1696.36 494.33L1696.36 500.93L1690.71 500.93L1690.71 533.33L1684.21 533.33L1684.21 500.93L1678.56 500.93ZM1678.56 583.12L1696.36 583.12L1696.36 576.52L1690.71 576.52L1690.71 544.13L1684.21 544.13L1684.21 576.52L1678.56 576.52ZM1727.00 450.18L1744.80 450.18L1744.80 456.78L1739.15 456.78L1739.15 490.49L1732.65 490.49L1732.65 456.78L1727.00 456.78ZM1727.00 541.59L1744.80 541.59L1744.80 534.99L1739.15 534.99L1739.15 501.29L1732.65 501.29L1732.65 534.99L1727.00 534.99ZM1775.44 435.18L1793.24 435.18L1793.24 441.78L1787.59 441.78L1787.59 479.83L1781.09 479.83L1781.09 441.78L1775.44 441.78ZM1775.44 535.28L1793.24 535.28L1793.24 528.68L1787.59 528.68L1787.59 490.63L1781.09 490.63L1781.09 528.68L1775.44 528.68ZM1823.88 344.72L1841.68 344.72L1841.68 351.32L1836.03 351.32L1836.03 418.51L1829.53 418.51L1829.53 351.32L1823.88 351.32ZM1823.88 503.10L1841.68 503.10L1841.68 496.50L1836.03 496.50L1836.03 429.31L1829.53 429.31L1829.53 496.50L1823.88 496.50ZM1872.32 303.84L1890.12 303.84L1890.12 310.44L1884.47 310.44L1884.47 396.77L1877.97 396.77L1877.97 310.44L1872.32 310.44ZM1872.32 500.49L1890.12 500.49L1890.12 493.89L1884.47 493.89L1884.47 407.57L1877.97 407.57L1877.97 493.89L1872.32 493.89ZM1920.76 289.05L1938.56 289.05L1938.56 295.65L1932.91 295.65L1932.91 388.72L1926.41 388.72L1926.41 295.65L1920.76 295.65ZM1920.76 499.19L1938.56 499.19L1938.56 492.59L1932.91 492.59L1932.91 399.52L1926.41 399.52L1926.41 492.59L1920.76 492.59ZM1969.20 271.22L1987.00 271.22L1987.00 277.82L1981.35 277.82L1981.35 371.76L1974.85 371.76L1974.85 277.82L1969.20 277.82ZM1969.20 483.10L1987.00 483.10L1987.00 476.50L1981.35 476.50L1981.35 382.56L1974.85 382.56L1974.85 476.50L1969.20 476.50ZM2017.64 260.35L2035.44 260.35L2035.44 266.95L2029.79 266.95L2029.79 362.19L2023.29 362.19L2023.29 266.95L2017.64 266.95ZM2017.64 474.83L2035.44 474.83L2035.44 468.23L2029.79 468.23L2029.79 372.99L2023.29 372.99L2023.29 468.23L2017.64 468.23ZM2066.08 239.04L2083.88 239.04L2083.88 245.64L2078.23 245.64L2078.23 342.84L2071.73 342.84L2071.73 245.64L2066.08 245.64ZM2066.08 457.44L2083.88 457.44L2083.88 450.84L2078.23 450.84L2078.23 353.64L2071.73 353.64L2071.73 450.84L2066.08 450.84ZM2114.52 219.04L2132.32 219.04L2132.32 225.64L2126.67 225.64L2126.67 338.71L2120.17 338.71L2120.17 225.64L2114.52 225.64ZM2114.52 469.18L2132.32 469.18L2132.32 462.58L2126.67 462.58L2126.67 349.51L2120.17 349.51L2120.17 462.58L2114.52 462.58ZM2162.96 206.42L2180.76 206.42L2180.76 213.02L2175.11 213.02L2175.11 331.31L2168.61 331.31L2168.61 213.02L2162.96 213.02ZM2162.96 467.00L2180.76 467.00L2180.76 460.40L2175.11 460.40L2175.11 342.11L2168.61 342.11L2168.61 460.40L2162.96 460.40ZM2211.40 187.51L2229.20 187.51L2229.20 194.11L2223.55 194.11L2223.55 312.40L2217.05 312.40L2217.05 194.11L2211.40 194.11ZM2211.40 448.09L2229.20 448.09L2229.20 441.49L2223.55 441.49L2223.55 323.20L2217.05 323.20L2217.05 441.49L2211.40 441.49Z"/>
<rect x="1493.8" y="111.0" width="230.60" height="258.90" fill="#fefefc" stroke="#140f0b" stroke-width="3.8"/>
<line x1="1513.90" y1="137.80" x2="1581.80" y2="137.80" stroke="#140f0b" stroke-width="6.5" stroke-linecap="butt"/>
<path fill="#140f0b" d="M1536.04 125.84H1559.96V149.76H1536.04Z"/>
<text transform="translate(1589.30 153.70)" font-size="47" text-anchor="start" stroke="#fefefc" stroke-width="0.52" paint-order="fill stroke">Saline</text>
<line x1="1513.90" y1="174.50" x2="1581.80" y2="174.50" stroke="#ff332b" stroke-width="6.5" stroke-linecap="butt"/>
<path fill="#ff332b" d="M1535.00 174.50A13.00 13.00 0 1 0 1561.00 174.50A13.00 13.00 0 1 0 1535.00 174.50Z"/>
<text transform="translate(1589.30 190.40)" font-size="47" text-anchor="start" stroke="#fefefc" stroke-width="0.52" paint-order="fill stroke">5</text>
<line x1="1513.90" y1="215.00" x2="1581.80" y2="215.00" stroke="#3c4a94" stroke-width="6.5" stroke-linecap="butt"/>
<path fill="#3c4a94" d="M1548.00 195.07L1564.90 224.97L1531.10 224.97Z"/>
<text transform="translate(1589.30 230.90)" font-size="47" text-anchor="start" stroke="#fefefc" stroke-width="0.52" paint-order="fill stroke">10</text>
<line x1="1513.90" y1="255.20" x2="1581.80" y2="255.20" stroke="#177c75" stroke-width="6.5" stroke-linecap="butt"/>
<path fill="#177c75" d="M1548.00 275.13L1564.90 245.23L1531.10 245.23Z"/>
<text transform="translate(1589.30 271.10)" font-size="47" text-anchor="start" stroke="#fefefc" stroke-width="0.52" paint-order="fill stroke">100</text>
<line x1="1513.90" y1="295.60" x2="1581.80" y2="295.60" stroke="#bc60a5" stroke-width="6.5" stroke-linecap="butt"/>
<path fill="#bc60a5" d="M1528.07 295.60L1557.97 278.70L1557.97 312.50Z"/>
<text transform="translate(1589.30 311.50)" font-size="47" text-anchor="start" stroke="#fefefc" stroke-width="0.52" paint-order="fill stroke">200</text>
<line x1="1513.90" y1="335.60" x2="1581.80" y2="335.60" stroke="#807a2e" stroke-width="6.5" stroke-linecap="butt"/>
<path fill="#807a2e" d="M1567.93 335.60L1538.03 318.70L1538.03 352.50Z"/>
<text transform="translate(1589.30 351.50)" font-size="47" text-anchor="start" stroke="#fefefc" stroke-width="0.52" paint-order="fill stroke">400</text>
<line x1="1445.60" y1="680.94" x2="1459.00" y2="680.94" stroke="#140f0b" stroke-width="6.8" stroke-linecap="butt"/>
<line x1="1445.60" y1="626.57" x2="1469.00" y2="626.57" stroke="#140f0b" stroke-width="6.8" stroke-linecap="butt"/>
<line x1="1445.60" y1="572.21" x2="1459.00" y2="572.21" stroke="#140f0b" stroke-width="6.8" stroke-linecap="butt"/>
<line x1="1445.60" y1="517.85" x2="1469.00" y2="517.85" stroke="#140f0b" stroke-width="6.8" stroke-linecap="butt"/>
<line x1="1445.60" y1="463.49" x2="1459.00" y2="463.49" stroke="#140f0b" stroke-width="6.8" stroke-linecap="butt"/>
<line x1="1445.60" y1="409.12" x2="1469.00" y2="409.12" stroke="#140f0b" stroke-width="6.8" stroke-linecap="butt"/>
<line x1="1445.60" y1="354.76" x2="1459.00" y2="354.76" stroke="#140f0b" stroke-width="6.8" stroke-linecap="butt"/>
<line x1="1445.60" y1="300.40" x2="1469.00" y2="300.40" stroke="#140f0b" stroke-width="6.8" stroke-linecap="butt"/>
<line x1="1445.60" y1="246.04" x2="1459.00" y2="246.04" stroke="#140f0b" stroke-width="6.8" stroke-linecap="butt"/>
<line x1="1445.60" y1="191.67" x2="1469.00" y2="191.67" stroke="#140f0b" stroke-width="6.8" stroke-linecap="butt"/>
<line x1="1445.60" y1="137.31" x2="1459.00" y2="137.31" stroke="#140f0b" stroke-width="6.8" stroke-linecap="butt"/>
<line x1="1493.70" y1="735.20" x2="1493.70" y2="711.20" stroke="#140f0b" stroke-width="6.7" stroke-linecap="butt"/>
<line x1="1542.14" y1="735.20" x2="1542.14" y2="721.00" stroke="#140f0b" stroke-width="6.7" stroke-linecap="butt"/>
<line x1="1590.58" y1="735.20" x2="1590.58" y2="711.20" stroke="#140f0b" stroke-width="6.7" stroke-linecap="butt"/>
<line x1="1639.02" y1="735.20" x2="1639.02" y2="721.00" stroke="#140f0b" stroke-width="6.7" stroke-linecap="butt"/>
<line x1="1687.46" y1="735.20" x2="1687.46" y2="711.20" stroke="#140f0b" stroke-width="6.7" stroke-linecap="butt"/>
<line x1="1735.90" y1="735.20" x2="1735.90" y2="721.00" stroke="#140f0b" stroke-width="6.7" stroke-linecap="butt"/>
<line x1="1784.34" y1="735.20" x2="1784.34" y2="711.20" stroke="#140f0b" stroke-width="6.7" stroke-linecap="butt"/>
<line x1="1832.78" y1="735.20" x2="1832.78" y2="721.00" stroke="#140f0b" stroke-width="6.7" stroke-linecap="butt"/>
<line x1="1881.22" y1="735.20" x2="1881.22" y2="711.20" stroke="#140f0b" stroke-width="6.7" stroke-linecap="butt"/>
<line x1="1929.66" y1="735.20" x2="1929.66" y2="721.00" stroke="#140f0b" stroke-width="6.7" stroke-linecap="butt"/>
<line x1="1978.10" y1="735.20" x2="1978.10" y2="711.20" stroke="#140f0b" stroke-width="6.7" stroke-linecap="butt"/>
<line x1="2026.54" y1="735.20" x2="2026.54" y2="721.00" stroke="#140f0b" stroke-width="6.7" stroke-linecap="butt"/>
<line x1="2074.98" y1="735.20" x2="2074.98" y2="711.20" stroke="#140f0b" stroke-width="6.7" stroke-linecap="butt"/>
<line x1="2123.42" y1="735.20" x2="2123.42" y2="721.00" stroke="#140f0b" stroke-width="6.7" stroke-linecap="butt"/>
<line x1="2171.86" y1="735.20" x2="2171.86" y2="711.20" stroke="#140f0b" stroke-width="6.7" stroke-linecap="butt"/>
<line x1="2220.30" y1="735.20" x2="2220.30" y2="721.00" stroke="#140f0b" stroke-width="6.7" stroke-linecap="butt"/>
<line x1="2268.74" y1="735.20" x2="2268.74" y2="711.20" stroke="#140f0b" stroke-width="6.7" stroke-linecap="butt"/>
<rect x="1445.6" y="83.5" width="871.70" height="651.70" fill="none" stroke="#140f0b" stroke-width="6.6"/>
<text transform="translate(1334.80 755.70) scale(1 1.04)" font-size="71" text-anchor="start" stroke="#fefefc" stroke-width="0.78" paint-order="fill stroke">20</text>
<text transform="translate(1334.80 646.97) scale(1 1.04)" font-size="71" text-anchor="start" stroke="#fefefc" stroke-width="0.78" paint-order="fill stroke">25</text>
<text transform="translate(1334.80 538.25) scale(1 1.04)" font-size="71" text-anchor="start" stroke="#fefefc" stroke-width="0.78" paint-order="fill stroke">30</text>
<text transform="translate(1334.80 429.52) scale(1 1.04)" font-size="71" text-anchor="start" stroke="#fefefc" stroke-width="0.78" paint-order="fill stroke">35</text>
<text transform="translate(1334.80 320.80) scale(1 1.04)" font-size="71" text-anchor="start" stroke="#fefefc" stroke-width="0.78" paint-order="fill stroke">40</text>
<text transform="translate(1334.80 212.07) scale(1 1.04)" font-size="71" text-anchor="start" stroke="#fefefc" stroke-width="0.78" paint-order="fill stroke">45</text>
<text transform="translate(1334.80 103.35) scale(1 1.04)" font-size="71" text-anchor="start" stroke="#fefefc" stroke-width="0.78" paint-order="fill stroke">50</text>
<text transform="translate(1479.20 812.10) scale(1 1.04)" font-size="71" text-anchor="start" stroke="#fefefc" stroke-width="0.78" paint-order="fill stroke">0</text>
<text transform="translate(1575.50 812.10) scale(1 1.04)" font-size="71" text-anchor="start" stroke="#fefefc" stroke-width="0.78" paint-order="fill stroke">2</text>
<text transform="translate(1672.20 812.10) scale(1 1.04)" font-size="71" text-anchor="start" stroke="#fefefc" stroke-width="0.78" paint-order="fill stroke">4</text>
<text transform="translate(1769.20 812.10) scale(1 1.04)" font-size="71" text-anchor="start" stroke="#fefefc" stroke-width="0.78" paint-order="fill stroke">6</text>
<text transform="translate(1866.20 812.10) scale(1 1.04)" font-size="71" text-anchor="start" stroke="#fefefc" stroke-width="0.78" paint-order="fill stroke">8</text>
<text transform="translate(1959.60 812.10) scale(1 1.04)" font-size="71" text-anchor="start" stroke="#fefefc" stroke-width="0.78" paint-order="fill stroke">10</text>
<text transform="translate(2055.70 812.10) scale(1 1.04)" font-size="71" text-anchor="start" stroke="#fefefc" stroke-width="0.78" paint-order="fill stroke">12</text>
<text transform="translate(2152.00 812.10) scale(1 1.04)" font-size="71" text-anchor="start" stroke="#fefefc" stroke-width="0.78" paint-order="fill stroke">14</text>
<text transform="translate(2248.70 812.10) scale(1 1.04)" font-size="71" text-anchor="start" stroke="#fefefc" stroke-width="0.78" paint-order="fill stroke">16</text>
<text transform="translate(1775.50 902.20)" font-size="71" text-anchor="start" stroke="#fefefc" stroke-width="0.78" paint-order="fill stroke">Time (d)</text>
<text transform="translate(1283.50 743.00) rotate(-90)" font-size="70.8" text-anchor="start" stroke="#fefefc" stroke-width="0.78" paint-order="fill stroke">Mice Body Weight (g)</text>
<text transform="translate(1212.00 81.40)" font-size="82" text-anchor="start" stroke="#fefefc" stroke-width="0.9" paint-order="fill stroke">(b)</text>
</g>
</svg>
</body>
</html>
